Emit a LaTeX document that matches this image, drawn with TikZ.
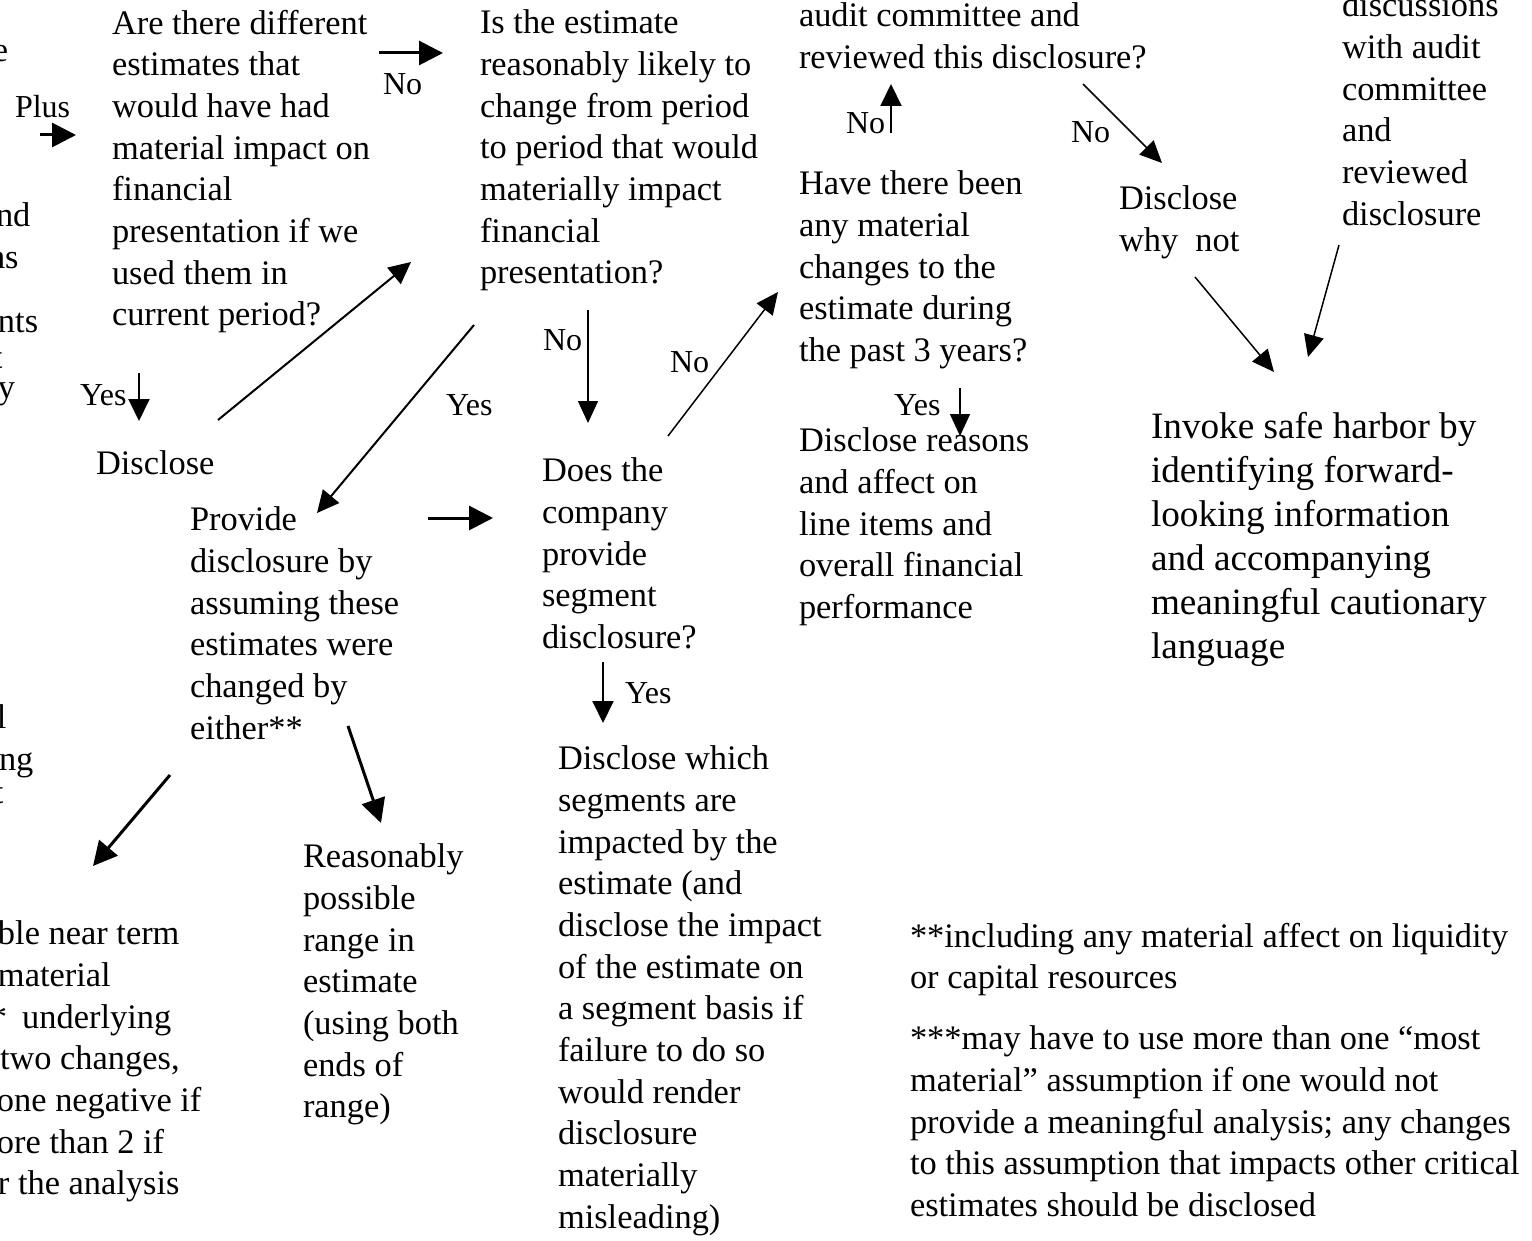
\documentclass[tikz,border=0pt]{standalone}
\usepackage{fontspec}
\setmainfont{Liberation Serif}
\usetikzlibrary{arrows.meta}
\begin{document}
\begin{tikzpicture}[x=1pt,y=-1pt,
  txt/.style={font=\fontsize{34.4}{41.7}\selectfont, align=left, inner sep=0pt, outer sep=0pt,
              anchor=north west, yshift=22.19pt, execute at begin node=\strut},
  big/.style={txt, font=\fontsize{37.2}{44}\selectfont, yshift=1.61pt},
  lab/.style={font=\fontsize{32}{38}\selectfont, inner sep=0pt, outer sep=0pt, anchor=base west},
  thk/.style={-{Triangle[length=24pt,width=24pt]}, line width=3pt},
  med/.style={-{Triangle[length=22pt,width=21pt]}, line width=2pt},
  thn/.style={-{Triangle[length=22pt,width=20pt]}, line width=1.5pt}]
\useasboundingbox (0,0) rectangle (1532,1241);
\clip (0,0) rectangle (1532,1241);

% text blocks
\node[txt] (est) at (112,32) {Are there different\\estimates that\\would have had\\material impact on\\financial\\presentation if we\\used them in\\current period?};
\node[txt] (likely) at (480,32) {Is the estimate\\reasonably likely to\\change from period\\to period that would\\materially impact\\financial\\presentation?};
\node[txt] (audit) at (799,25) {audit committee and\\reviewed this disclosure?};
\node[txt] (disc) at (1342,15) {discussions\\with audit\\committee\\and\\reviewed\\disclosure};
\node[txt] (changes) at (799,193) {Have there been\\any material\\changes to the\\estimate during\\the past 3 years?};
\node[txt] (whynot) at (1119,208) {Disclose\\why\ \ not};
\node[big] (harbor) at (1151,436) {Invoke safe harbor by\\identifying forward-\\looking information\\and accompanying\\meaningful cautionary\\language};
\node[txt] (disclose) at (96,467) {Disclose};
\node[txt] (provide) at (190,529) {Provide\\disclosure by\\assuming these\\estimates were\\changed by\\either**};
\node[txt] (segment) at (542,480) {Does the\\company\\provide\\segment\\disclosure?};
\node[txt] (reasons) at (799,450) {Disclose reasons\\and affect on\\line items and\\overall financial\\performance};
\node[txt] (which) at (558,768) {Disclose which\\segments are\\impacted by the\\estimate (and\\disclose the impact\\of the estimate on\\a segment basis if\\failure to do so\\would render\\disclosure\\materially\\misleading)};
\node[txt] (range) at (303,866) {Reasonably\\possible\\range in\\estimate\\(using both\\ends of\\range)};
\node[txt] (fn1) at (910,945) {**including any material affect on liquidity\\or capital resources};
\node[txt] (fn2) at (910,1048) {***may have to use more than one “most\\material” assumption if one would not\\provide a meaningful analysis; any changes\\to this assumption that impacts other critical\\estimates should be disclosed};

% cut-off text at the left edge
\node[txt] (leftA) at (0,55) {\hspace*{-7pt}e};
\node[txt] (leftB) at (0,225) {\hspace*{-4pt}nd\\\hspace*{-12pt}ns};
\node[txt] (leftC) at (0,326) {\hspace*{-2pt}nts};
\node[txt] (leftT) at (0,362) {\hspace*{-7pt}t};
\node[txt] (leftY) at (0,391) {\hspace*{-2pt}y};
\node[txt] (leftD) at (0,727) {\hspace*{-3pt}l\\\hspace*{-1pt}ng};
\node[txt] (leftE) at (0,796) {\hspace*{-6pt}t};
\node[txt] (leftF) at (0,943) {\hspace*{-2pt}ble near term\\\hspace*{-2pt}material\\\hspace*{-10pt}*\hspace*{15pt}underlying\\two changes,\\\hspace*{-3pt}one negative if\\\hspace*{-3pt}ore than 2 if\\\hspace*{-2pt}r the analysis};

% labels
\node[lab] (plus) at (15,118) {Plus};
\node[lab] (no1) at (383,95) {No};
\node[lab] (yes1) at (80,405) {Yes};
\node[lab] (yes2) at (446,415) {Yes};
\node[lab] (no2) at (543,351) {No};
\node[lab] (no3) at (670,373) {No};
\node[lab] (no4) at (846,134) {No};
\node[lab] (no5) at (1071,143) {No};
\node[lab] (yes3) at (894,415) {Yes};
\node[lab] (yes4) at (625,703) {Yes};

% arrow end points
\coordinate (p1s) at (40,135);   \coordinate (p1e) at (76,135);
\coordinate (p2s) at (379,53);   \coordinate (p2e) at (443,53);
\coordinate (p3s) at (139,373);  \coordinate (p3e) at (139,421);
\coordinate (p4s) at (218,420);  \coordinate (p4e) at (411,262);
\coordinate (p5s) at (474,325);  \coordinate (p5e) at (317,513);
\coordinate (p6s) at (588,310);  \coordinate (p6e) at (588,423);
\coordinate (p7s) at (668,436);  \coordinate (p7e) at (778,292);
\coordinate (p8s) at (428,518);  \coordinate (p8e) at (493,518);
\coordinate (p9s) at (891,133);  \coordinate (p9e) at (891,84);
\coordinate (p10s) at (1083,84); \coordinate (p10e) at (1162,163);
\coordinate (p11s) at (960,388); \coordinate (p11e) at (960,436);
\coordinate (p12s) at (1195,277);\coordinate (p12e) at (1274,372);
\coordinate (p13s) at (1339,245);\coordinate (p13e) at (1308,357);
\coordinate (p14s) at (170,775); \coordinate (p14e) at (93,866);
\coordinate (p15s) at (348,726); \coordinate (p15e) at (381,823);
\coordinate (p16s) at (603,662); \coordinate (p16e) at (603,723);

\draw[thk] (p1s) -- (p1e);
\draw[thk] (p2s) -- (p2e);
\draw[med] (p3s) -- (p3e);
\draw[med] (p4s) -- (p4e);
\draw[med] (p5s) -- (p5e);
\draw[thn] (p6s) -- (p6e);
\draw[thn] (p7s) -- (p7e);
\draw[thk] (p8s) -- (p8e);
\draw[med] (p9s) -- (p9e);
\draw[thn] (p10s) -- (p10e);
\draw[thn] (p11s) -- (p11e);
\draw[thn] (p12s) -- (p12e);
\draw[thn] (p13s) -- (p13e);
\draw[thk] (p14s) -- (p14e);
\draw[thk] (p15s) -- (p15e);
\draw[med] (p16s) -- (p16e);
\end{tikzpicture}
\end{document}
